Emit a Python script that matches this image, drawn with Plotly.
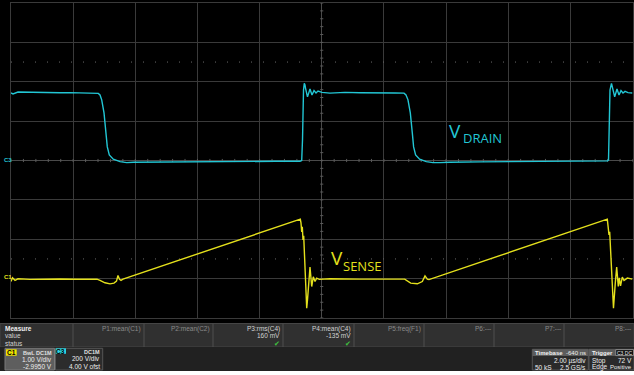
import plotly.graph_objects as go

W, H = 634, 375

# Graticule placement on the screen (pixels) and scope settings
X0, X1 = 11, 632.5
Y0, Y1 = 3, 318
US_PER_DIV = 2.0
N_HDIV, N_VDIV = 10, 8

C3_VDIV, C3_OFFSET = 200.0, 4.00      # V/div, V
C1_VDIV, C1_OFFSET = 1.00, -2.9950    # V/div, V
TRIGGER_DELAY_US = -0.64

# C3: drain voltage (V) vs time (µs)
t_drain = [-10.000, -9.936, -9.775, -9.389, -9.067, -8.745, -8.423, -8.101, -7.780, -7.458,
           -7.232, -7.191, -7.136, -7.081, -7.007, -6.943, -6.901, -6.837, -6.708, -6.492,
           -6.277, -6.064, -5.527, -4.700, -3.918, -3.100, -2.309, -1.500, -0.700, -0.645,
           -0.619, -0.603, -0.587, -0.562, -0.539, -0.523, -0.459, -0.378, -0.314, -0.249,
           -0.185, -0.121, 0.008, 0.265, 0.748, 1.231, 1.874, 2.357, 2.647, 2.711,
           2.775, 2.850, 2.914, 2.956, 3.020, 3.149, 3.364, 3.580, 3.805, 4.127,
           5.093, 6.702, 8.311, 9.196, 9.228, 9.244, 9.260, 9.276, 9.324, 9.363,
           9.427, 9.501, 9.566, 9.630, 9.694, 9.759, 9.855, 10.000]
v_drain = [339, 334, 344, 342, 341, 342, 340, 341, 340, 340,
           339, 337, 329, 304, 238, 136, 65, 24, 3, -10,
           -15, -13, -12, -11, -10, -9, -9, -8, -8, -4,
           101, 253, 354, 388, 380, 364, 319, 359, 329, 351,
           339, 349, 342, 338, 342, 340, 341, 339, 338, 329,
           304, 238, 136, 65, 24, 3, -10, -15, -15, -13,
           -11, -9, -8, -6, -1, 101, 253, 354, 388, 364,
           319, 359, 329, 351, 339, 347, 341, 339]

# C1: current-sense voltage (V) vs time (µs)
t_sense = [-10.000, -9.952, -9.871, -9.775, -9.389, -8.900, -8.423, -7.900, -7.232, -7.136,
           -6.975, -6.814, -6.686, -6.605, -6.557, -6.508, -6.460, -6.396, -0.690, -0.668,
           -0.645, -0.626, -0.603, -0.581, -0.555, -0.529, -0.507, -0.484, -0.459, -0.433,
           -0.410, -0.378, -0.323, -0.272, -0.217, -0.163, -0.079, 0.265, 1.231, 2.000,
           2.669, 2.862, 3.075, 3.236, 3.323, 3.397, 3.451, 9.189, 9.221, 9.244,
           9.266, 9.286, 9.324, 9.350, 9.388, 9.446, 9.491, 9.543, 9.576, 9.614,
           9.672, 9.727, 9.833, 10.000]
v_sense = [-0.080, 0.015, -0.048, -0.010, -0.023, -0.015, -0.015, -0.020, -0.018, -0.048,
           -0.111, -0.137, -0.119, -0.070, 0.074, -0.023, -0.048, -0.018, 1.505, 1.411,
           1.183, 1.310, 0.980, 1.081, 0.675, 0.091, -0.416, -0.754, -0.543, -0.206,
           0.091, 0.287, -0.206, 0.041, -0.079, 0.008, -0.023, -0.010, -0.018, -0.015,
           -0.018, -0.119, -0.137, -0.079, 0.066, -0.018, -0.030, 1.505, 1.310, 1.107,
           1.183, 0.853, 0.218, -0.289, -0.754, -0.119, 0.287, -0.206, 0.015, -0.188,
           0.033, -0.053, 0.008, -0.018]

# Measurement table
meas_labels = ["P1:mean(C1)", "P2:mean(C2)", "P3:rms(C4)", "P4:mean(C4)",
               "P5:freq(F1)", "P6:---", "P7:---", "P8:---"]
meas_values = ["", "", "160 mV", "-135 mV", "", "", "", ""]
meas_ok = [False, False, True, True, False, False, False, False]

CYAN = "#22c6d4"
YELLOW = "#e4e01c"
GRID = "#3a3a3a"
TXT = "#d2d2d2"
DIM = "#8a8a8a"

fig = go.Figure()
fig.add_trace(go.Scatter(x=t_drain, y=v_drain, yaxis="y2", mode="lines",
                         line=dict(color=CYAN, width=1.4), hoverinfo="skip"))
fig.add_trace(go.Scatter(x=t_sense, y=v_sense, yaxis="y3", mode="lines",
                         line=dict(color=YELLOW, width=1.4), hoverinfo="skip"))
# trigger position marker under the graticule
fig.add_trace(go.Scatter(x=[TRIGGER_DELAY_US], y=[-N_VDIV / 2 - 0.065], mode="markers",
                         marker=dict(symbol="triangle-up", size=6, color=CYAN),
                         cliponaxis=False, hoverinfo="skip"))

half_t = US_PER_DIV * N_HDIV / 2
shapes = []
# dotted level lines at +/- 2.5 div
for lvl in (2.5, -2.5):
    shapes.append(dict(type="line", xref="x", yref="y", x0=-half_t, x1=half_t, y0=lvl, y1=lvl,
                       line=dict(color="#6a6a6a", width=1, dash="1px,11px"), layer="between"))
# minor ticks on the centre cross
for k in range(-25, 26):
    tx = k * US_PER_DIV / 5
    shapes.append(dict(type="line", xref="x", yref="y", x0=tx, x1=tx, y0=-0.04, y1=0.04,
                       line=dict(color="#5a5a5a", width=1), layer="between"))
for k in range(-20, 21):
    ty = k / 5
    shapes.append(dict(type="line", xref="x", yref="y", x0=-0.05, x1=0.05, y0=ty, y1=ty,
                       line=dict(color="#5a5a5a", width=1), layer="between"))


def rect(x0, y0, x1, y1, fill, line=None):
    shapes.append(dict(type="rect", xref="paper", yref="paper",
                       x0=x0 / W, x1=x1 / W, y0=1 - y1 / H, y1=1 - y0 / H,
                       fillcolor=fill, layer="above",
                       line=dict(width=1 if line else 0, color=line or fill)))


ann = []


def text(x, y, s, size=6.5, color=TXT, anchor="left", bold=False, family="Liberation Sans"):
    ann.append(dict(xref="paper", yref="paper", x=x / W, y=1 - y / H,
                    text=f"<b>{s}</b>" if bold else s, showarrow=False,
                    xanchor=anchor, yanchor="middle", borderpad=0,
                    font=dict(size=size, color=color, family=family)))


# signal labels
text(447.5, 130.5, "V", size=19, color=CYAN, family="Open Sans")
text(461.5, 138.5, "DRAIN", size=13, color=CYAN, family="Open Sans")
text(329.5, 257.5, "V", size=19, color=YELLOW, family="Open Sans")
text(342, 265.5, "SENSE", size=13, color=YELLOW, family="Open Sans")
# channel ground markers
text(2.5, 159.5, "C3", size=6, color=CYAN, bold=True)
text(2.5, 276.5, "C1", size=6, color=YELLOW, bold=True)

# measurement table
rect(0, 323.5, W, 347, "#303030", "#454545")
col_edges = [73, 144, 213, 283, 354, 424, 494, 564]
for ce in col_edges:
    shapes.append(dict(type="line", xref="paper", yref="paper", x0=ce / W, x1=ce / W,
                       y0=1 - 347 / H, y1=1 - 323.5 / H, line=dict(color="#4e4e4e", width=1)))
text(4, 328.5, "Measure", size=6.5, color="#eeeeee", bold=True)
text(4, 335.5, "value")
text(4, 343, "status")
right_edges = col_edges[1:] + [W]
for lab, val, ok, re in zip(meas_labels, meas_values, meas_ok, right_edges):
    text(re - 2, 328.5, lab, color=TXT if val else DIM, anchor="right")
    if val:
        text(re - 2, 335.5, val, anchor="right")
    if ok:
        text(re - 2, 343.5, "✔", size=6.5, color="#3fc43f", anchor="right")

# channel / timebase strip
rect(0, 347, W, 371, "#212121")
rect(5, 348.3, 54.5, 370, "#5e5e5e", "#7a7a7a")
rect(6, 349.3, 16.7, 355.7, "#f2e600")
text(11.3, 352.5, "C1", size=6.5, color="#000000", anchor="center", bold=True)
text(52.5, 352.5, "BwL DC1M", size=5.5, color="#e0e0e0", anchor="right", bold=True)
text(52.5, 359.3, "1.00 V/div", size=6.5, color="#eeeeee", anchor="right")
text(52.5, 366, "-2.9950 V", size=6.5, color="#eeeeee", anchor="right")

rect(55.5, 348.3, 102.7, 370, "#2c2c2c", "#555555")
rect(55.7, 348.3, 66, 353.8, "#2ad4e0")
text(60.8, 351.2, "C3", size=6.5, color="#000000", anchor="center", bold=True)
text(101.2, 351.5, "DC1M", size=5.5, color="#e0e0e0", anchor="right", bold=True)
text(101.2, 358.5, "200 V/div", size=6.5, color="#eeeeee", anchor="right")
text(101.2, 366, "4.00 V ofst", size=6.5, color="#eeeeee", anchor="right")

rect(532.3, 349.3, 588.3, 370, "#2a2a2a", "#555555")
rect(532.3, 349.3, 588.3, 355.9, "#5c5c5c")
text(534, 352.6, "Timebase", size=6, color="#f0f0f0", bold=True)
text(587.3, 352.6, "-640 ns", size=6, color="#f0f0f0", anchor="right")
text(587.3, 360.5, "2.00 µs/div", size=6.5, color="#eeeeee", anchor="right")
text(533.5, 367, "50 kS", size=6.5, color="#eeeeee")
text(587.3, 367, "2.5 GS/s", size=6.5, color="#eeeeee", anchor="right")

rect(589, 349.3, W, 370, "#2a2a2a", "#555555")
rect(589, 349.3, W, 355.9, "#5c5c5c")
text(590.8, 352.6, "Trigger", size=6, color="#f0f0f0", bold=True)
rect(615.7, 349.6, 633.5, 355.6, "#111111", "#888888")
text(624.6, 352.6, "C3 DC", size=5, color="#e8e8e8", anchor="center")
text(591, 360.5, "Stop", size=6.5, color="#eeeeee")
text(632.5, 360.5, "72 V", size=6.5, color="#eeeeee", anchor="right")
text(591, 367, "Edge", size=6.5, color="#eeeeee")
text(633, 367, "Positive", size=6, color="#eeeeee", anchor="right")

rect(0, 371, W, H, "#ffffff")

axis_common = dict(showticklabels=False, ticks="", showgrid=True, gridcolor=GRID, gridwidth=1,
                   zeroline=True, zerolinecolor="#4a4a4a", zerolinewidth=1,
                   showline=True, linecolor=GRID, linewidth=1, mirror=True, fixedrange=True)

c3_center = -C3_OFFSET
c1_center = -C1_OFFSET
fig.update_layout(
    width=W, height=H, margin=dict(l=0, r=0, t=0, b=0),
    paper_bgcolor="#000000", plot_bgcolor="#000000", showlegend=False,
    xaxis=dict(domain=[X0 / W, X1 / W], range=[-half_t, half_t], dtick=US_PER_DIV, tick0=0,
               **axis_common),
    yaxis=dict(domain=[1 - Y1 / H, 1 - Y0 / H], range=[-N_VDIV / 2, N_VDIV / 2], dtick=1, tick0=0,
               **axis_common),
    yaxis2=dict(overlaying="y", range=[c3_center - 4 * C3_VDIV, c3_center + 4 * C3_VDIV],
                visible=False, fixedrange=True),
    yaxis3=dict(overlaying="y", range=[c1_center - 4 * C1_VDIV, c1_center + 4 * C1_VDIV],
                visible=False, fixedrange=True),
    shapes=shapes, annotations=ann,
)

fig.write_html("out.html")
